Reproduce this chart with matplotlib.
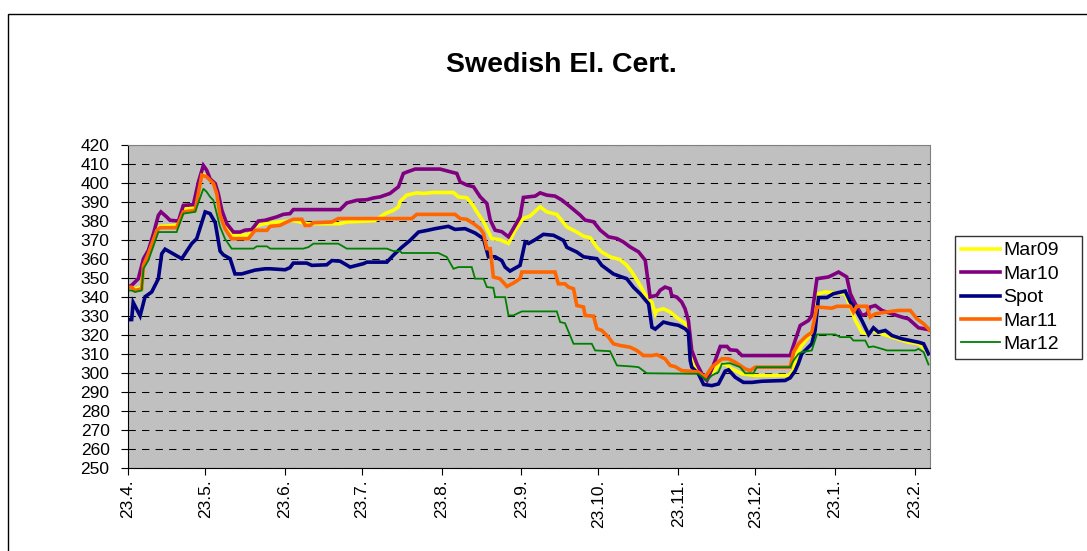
import numpy as np
import pandas as pd
import matplotlib
matplotlib.use('Agg')
import matplotlib.pyplot as plt
import matplotlib.dates as mdates
from matplotlib.patches import Rectangle

plt.rcParams['font.family'] = ['Liberation Sans', 'DejaVu Sans']

start_date = '2008-04-23'

# (days after 23.4., price)
mar09 = [(0, 345), (1.4, 345), (2.7, 344), (5.3, 345), (6.0, 357), (7.9, 363.5), (11.2, 375.5), (12.5, 377),
         (18.9, 377.5), (21.5, 386), (26.1, 387), (28.7, 404.5), (30.6, 403.5), (33.2, 400.5), (34.5, 395),
         (35.8, 384), (37.7, 377), (40.3, 372.5), (46.8, 372.5), (49.4, 377), (53.3, 378.5), (60, 379.5),
         (64.3, 380), (70, 378.4), (82.5, 378.4), (85, 379.3), (96, 380), (100, 383.7), (103.2, 385.4),
         (105.2, 387.2), (105.8, 390), (108.4, 393.4), (112.3, 394.6), (114.9, 394.3), (118.8, 394.8),
         (126.6, 394.8), (128.5, 392.5), (131.8, 392), (133.7, 389), (135.7, 384.6), (138.3, 379.4),
         (141.5, 370.6), (144.7, 370), (148, 368), (150.6, 375), (153.8, 381.2), (156.4, 382.4), (160.3, 387.3),
         (162.9, 384.6), (166.8, 383.3), (170.7, 376.7), (174.6, 374), (177.2, 371.8), (179.8, 371),
         (182.4, 366), (184.3, 363.5), (187.5, 361), (191.4, 359.5), (194, 356.5), (196, 353), (199.2, 346),
         (201.8, 339.8), (203.8, 337.2), (205.1, 331), (205.7, 332.8), (208.3, 333.7), (210.9, 332),
         (214.1, 328.4), (216.7, 326.1), (218, 323.2), (219.3, 311.8), (220.6, 303.9), (223.2, 298.6),
         (225.2, 296.8), (227.1, 299.5), (229.7, 303.9), (232.3, 304.7), (234.9, 302.1), (238.8, 299.5),
         (244, 298.6), (257, 298.6), (258.9, 301.2), (260.2, 310), (262.1, 314.5), (264.7, 318.8),
         (266.7, 324), (268.6, 341.6), (271.2, 342.5), (279, 341.6), (281, 334.6), (283, 327.5),
         (285.5, 321.4), (287.4, 320.5), (289.4, 322.3), (293.3, 320.5), (297.2, 318.8), (303.6, 316.1),
         (307.5, 315.3), (310.1, 312.6), (311.4, 310)]

mar10 = [(0, 345), (1.4, 346), (4.0, 349.5), (6.0, 360), (7.9, 364.4), (9.9, 373.2), (11.8, 382.8),
         (12.8, 384.6), (15.0, 382), (16.3, 380.2), (19.6, 379.8), (21.5, 388), (25.4, 388.4), (27.4, 400.4),
         (29.3, 409), (30.6, 406.5), (31.9, 402), (33.9, 399.5), (35.1, 394.2), (36.5, 385.4), (38.4, 378.4),
         (41.0, 374), (43.6, 374), (45.5, 375), (48.1, 375.3), (50.7, 379.8), (53.3, 380.2), (57.9, 382),
         (60.4, 383.3), (63.0, 383.7), (64.3, 385.8), (82.5, 385.8), (85.1, 389.3), (89.0, 390.7),
         (92.9, 391), (95.4, 391.9), (98.1, 392.5), (101.9, 394.3), (105.2, 397.8), (107.1, 404.8),
         (108.4, 405.5), (111.7, 407.1), (121.4, 407.1), (125.3, 405.7), (127.9, 404.8), (129.2, 400.4),
         (131.8, 398.7), (134.4, 397.8), (137.0, 392.5), (139.6, 389), (140.9, 380.3), (142.8, 375),
         (145.4, 374.2), (148.0, 371.5), (149.9, 375.9), (152.5, 382), (153.8, 392.2), (158.4, 392.9),
         (160.3, 394.6), (162.9, 393.4), (166.1, 392.9), (168.8, 390.8), (172.0, 387.3), (175.9, 382.9),
         (177.8, 380.3), (181.1, 379.4), (183.7, 375), (186.9, 371.5), (190.2, 370.6), (192.7, 368.8),
         (195.3, 366.2), (198.6, 363.6), (201.2, 359.2), (203.1, 339.9), (205.7, 340.8), (207.0, 343.4),
         (208.9, 345.1), (210.9, 344.2), (211.5, 340.7), (213.5, 339.8), (215.4, 337.2), (216.7, 333.7),
         (218.0, 327.5), (219.3, 311.8), (221.3, 304.7), (223.9, 297.7), (225.2, 296), (227.7, 303.9),
         (230.4, 313.9), (233.0, 313.9), (234.2, 312.1), (236.8, 311.8), (238.8, 309.1), (257.6, 309.1),
         (259.5, 317), (261.5, 324.9), (264.7, 327.5), (266.0, 330.2), (268.0, 349.5), (272.5, 350.4),
         (275.1, 352.1), (276.4, 353), (279.6, 350.4), (281.0, 341.6), (282.9, 336.3), (285.5, 330.2),
         (287.4, 331), (288.7, 334.6), (290.7, 335.4), (293.3, 332.8), (297.2, 331), (301.1, 329.3),
         (303.6, 328.4), (307.5, 323.7), (312, 322.6)]

spot = [(0, 328), (1.4, 328), (2, 337), (4.7, 330), (6.6, 340), (9.2, 342.5), (11.8, 349.5), (13.1, 362.6),
        (14.4, 365), (20.9, 360), (24.8, 368), (26.7, 370.5), (30, 384.6), (31.9, 383.7), (33.9, 379),
        (35.8, 364), (37.1, 362), (39.7, 360), (41.6, 352), (44.2, 352), (49.4, 354), (53.3, 354.7),
        (55.3, 354.7), (61.1, 354.2), (63, 355.3), (64.3, 357.7), (69.5, 357.7), (71.5, 356.5), (77.3, 356.8),
        (79.3, 359), (82.5, 358.7), (86.4, 355.6), (89, 356.5), (91.6, 357.4), (92.9, 358.2), (100.7, 358.2),
        (103.2, 361.8), (106.5, 366), (109.7, 369.6), (113, 374), (116.8, 375), (119.5, 375.8), (124.6, 377),
        (127.2, 375.4), (131.1, 375.8), (135, 373.5), (138.3, 370.5), (140.2, 361), (142.8, 361),
        (145.4, 359), (146.7, 355.6), (148.6, 353.5), (152.5, 356.5), (154.5, 368.8), (155.8, 368),
        (158.4, 370), (161.6, 372.8), (165.5, 372.3), (169.4, 369.6), (170.7, 366), (174.6, 363.5),
        (177.2, 361), (182.4, 360), (184.3, 356.5), (188.8, 352), (191.4, 350.7), (194, 349.5), (196.6, 345),
        (199.2, 341.6), (202.5, 336.3), (203.8, 324), (205.1, 323), (208.3, 326.7), (210.9, 325.8),
        (214.1, 325), (216.7, 323.2), (218, 321.4), (218.7, 306.5), (219.3, 303), (221.9, 299.5),
        (223.9, 293.9), (227.1, 293.3), (229.7, 294.2), (232.3, 300.9), (233.6, 301.6), (236.2, 297.7),
        (239.4, 295), (242.7, 295), (246.6, 295.6), (255.6, 296), (257.6, 297.4), (259.5, 301),
        (260.8, 305), (262.1, 310), (266.0, 315.3), (267.3, 322.3), (268.6, 339.6), (271.9, 339.6),
        (274.4, 341.6), (279.0, 343), (281.0, 337.2), (282.9, 333.7), (285.5, 327.5), (288.1, 320.2),
        (290.0, 323.7), (291.9, 321.4), (294.6, 322.3), (297.2, 319.6), (301.1, 317.9), (304.3, 317),
        (307.5, 316.1), (309.5, 315.3), (311.4, 310)]

mar11 = [(0, 345), (1.4, 345), (2.7, 343.3), (5.3, 344.2), (6.0, 356.5), (7.9, 362.6), (11.2, 374.9),
         (12.5, 376.3), (18.9, 376.3), (21.5, 384.6), (26.1, 385.4), (28.7, 403.9), (30.6, 403), (33.2, 399.5),
         (34.5, 394.2), (35.8, 382.8), (37.7, 375.8), (40.3, 370.5), (46.8, 370.5), (49.4, 374.9), (54.0, 374.9),
         (55.3, 377), (59.1, 377.5), (61.8, 379.3), (64.3, 380.7), (67.6, 380.7), (68.9, 377.5), (70.8, 377.5),
         (72.1, 378.9), (79.3, 379.3), (81.8, 381.1), (110.4, 381.1), (112.3, 383.3), (127.2, 383.3),
         (129.2, 381.1), (131.8, 380.7), (134.4, 378.4), (137.0, 375.8), (138.3, 373.2), (139.6, 365.3),
         (140.9, 365.3), (142.1, 350.4), (144.7, 349.5), (147.4, 345.4), (149.9, 347.2), (152.5, 349.5),
         (153.2, 353), (166.1, 353), (167.4, 346.8), (170.0, 346.8), (171.3, 345.1), (173.3, 344.2),
         (174.6, 335.4), (177.2, 334.6), (177.8, 330.2), (181.1, 329.8), (182.4, 323.2), (184.3, 322.3),
         (186.9, 318.8), (188.8, 315.3), (191.4, 314.4), (195.3, 313.5), (197.9, 311.8), (200.5, 309.1),
         (203.8, 309.1), (205.7, 309.6), (208.9, 307.4), (210.9, 303.9), (212.8, 303.3), (215.4, 301.2),
         (218.7, 300.9), (221.9, 300.4), (224.5, 297.7), (227.1, 303), (231.0, 307.4), (233.6, 307.4),
         (236.2, 305.6), (240.1, 302.1), (242.0, 301.2), (244.0, 303), (257.6, 303), (258.9, 310.9),
         (260.8, 315.3), (262.1, 317), (263.4, 318.8), (266.0, 321.4), (268.0, 334.6), (273.8, 334),
         (275.8, 335), (281.0, 335), (282.2, 331.9), (283.5, 335), (287.4, 335), (288.7, 329.3),
         (290.7, 331), (294.6, 331.9), (299.7, 332.8), (304.3, 332.8), (306.9, 328.4), (309.5, 325.8),
         (312, 322.3)]

mar12 = [(0, 343.3), (1.4, 343.3), (2.7, 342.5), (5.3, 343.3), (6.0, 354.7), (7.9, 359.1), (11.8, 374),
         (18.9, 374), (21.5, 383.7), (26.1, 384.6), (29.3, 396.8), (30.6, 395.1), (31.9, 392.5), (33.2, 390.7),
         (34.5, 383.7), (35.8, 376.7), (37.7, 370.5), (40.3, 365.3), (48.8, 365.3), (50.1, 366.5), (54.0, 366.5),
         (55.3, 365.3), (68.2, 365.3), (70.2, 366.1), (72.1, 367.9), (81.8, 367.9), (85.1, 365.3),
         (100.7, 365.3), (103.2, 364), (105.8, 364), (106.5, 363), (120.7, 363), (124.0, 360.9), (126.6, 354.7),
         (128.5, 355.6), (133.7, 355.6), (135.0, 349.5), (138.3, 349.5), (139.6, 345.1), (142.1, 344.7),
         (142.8, 339.8), (146.7, 339.8), (148.0, 330.2), (149.9, 330.2), (153.2, 332.3), (166.8, 332.3),
         (168.1, 326.7), (170.0, 326.1), (173.3, 315.3), (180.4, 315.3), (181.7, 311.8), (187.5, 311.4),
         (190.2, 303.9), (196.6, 303.3), (198.6, 303), (201.8, 299.8), (221.9, 299.5), (223.9, 297.4),
         (225.2, 296), (227.1, 298.6), (229.7, 300.4), (231.0, 304.7), (234.2, 305.1), (238.1, 303),
         (240.1, 299.8), (243.3, 299.8), (244.6, 303), (257.6, 303), (258.9, 306.5), (260.8, 310),
         (262.1, 310.9), (266.0, 311.8), (268.0, 320.2), (275.1, 320.2), (277.0, 318.8), (281.0, 318.8),
         (282.2, 317), (286.8, 317), (288.1, 313.5), (290.0, 313.9), (293.3, 312.6), (295.2, 311.8),
         (306.2, 311.8), (307.5, 312.6), (309.5, 310.9), (311.4, 304.4)]

series = [('Mar09', mar09, '#FFFF00', 2.6),
          ('Mar10', mar10, '#800080', 2.6),
          ('Spot', spot, '#000080', 2.6),
          ('Mar11', mar11, '#FF6600', 2.6),
          ('Mar12', mar12, '#008000', 1.3)]

t0 = pd.Timestamp(start_date)

fig = plt.figure(figsize=(10.87, 5.51), dpi=100)
ax = fig.add_axes([0.1178, 0.1506, 0.7378, 0.5871])
ax.set_facecolor('#C0C0C0')

for name, pts, col, lw in series:
    d, v = zip(*pts)
    x = t0 + pd.to_timedelta(np.array(d), unit='D')
    ax.plot(x, v, color=col, lw=lw, label=name, solid_joinstyle='miter')

ax.set_ylim(250, 420)
ax.set_yticks(np.arange(250, 421, 10))
ax.set_xlim(t0, t0 + pd.Timedelta(days=312))
ax.xaxis.set_major_locator(mdates.MonthLocator(bymonthday=23))
ax.xaxis.set_major_formatter(plt.FuncFormatter(
    lambda v, p: '%d.%d.' % (mdates.num2date(v).day, mdates.num2date(v).month)))
plt.setp(ax.get_xticklabels(), rotation=90)
ax.tick_params(direction='out', length=5.3, labelsize=12.5, color='black')
ax.tick_params(axis='y', pad=8)
ax.tick_params(axis='x', pad=3)

ax.yaxis.grid(True, color='black', lw=0.75, dashes=(7, 6))
ax.set_axisbelow(True)
ax.spines['top'].set_color('#808080')
ax.spines['right'].set_color('#808080')

fig.text(0.516, 0.882, 'Swedish El. Cert.', ha='center', va='center', fontsize=20.5, fontweight='bold')

leg = ax.legend(loc='upper left', bbox_to_anchor=(955 / 1087, 1 - 364 / 551, 127 / 1087, 128 / 551),
                bbox_transform=fig.transFigure, mode='expand',
                fontsize=14, frameon=True, fancybox=False, borderpad=0.3, handlelength=2.0,
                handletextpad=0.2, labelspacing=0.3, borderaxespad=0)
leg.get_frame().set_edgecolor('black')
leg.get_frame().set_linewidth(1)

fig.patches.append(Rectangle((8 / 1087, -0.1), 1.2, 1.1 - 14 / 551, transform=fig.transFigure,
                             fill=False, edgecolor='black', lw=1))

fig.savefig('out.png', dpi=100)
